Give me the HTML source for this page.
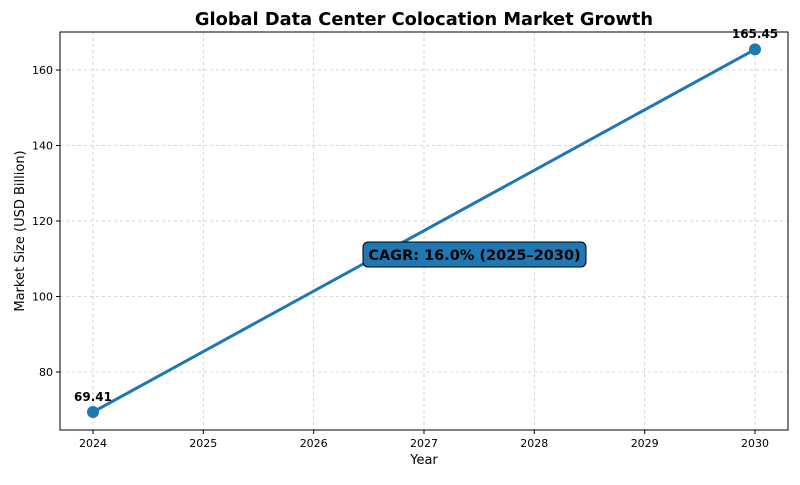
<!DOCTYPE html>
<html><head><meta charset="utf-8"><style>body{margin:0;background:#fff}</style></head><body>
<svg width="800" height="480" xmlns="http://www.w3.org/2000/svg" font-family="DejaVu Sans, Liberation Sans, sans-serif">
<rect width="800" height="480" fill="#fff"/>
<g stroke="#b0b0b0" stroke-width="0.8" stroke-dasharray="3,3" opacity="0.7">
<line x1="93" y1="32" x2="93" y2="430"/><line x1="203.3" y1="32" x2="203.3" y2="430"/><line x1="313.7" y1="32" x2="313.7" y2="430"/><line x1="424" y1="32" x2="424" y2="430"/><line x1="534.3" y1="32" x2="534.3" y2="430"/><line x1="644.7" y1="32" x2="644.7" y2="430"/><line x1="755" y1="32" x2="755" y2="430"/>
<line x1="60" y1="70" x2="788" y2="70"/><line x1="60" y1="145.5" x2="788" y2="145.5"/><line x1="60" y1="221" x2="788" y2="221"/><line x1="60" y1="296.5" x2="788" y2="296.5"/><line x1="60" y1="372" x2="788" y2="372"/>
</g>
<rect x="60" y="32" width="728" height="398" fill="none" stroke="#000" stroke-width="1"/>
<g stroke="#000"><line x1="93" y1="430" x2="93" y2="434"/><line x1="203.3" y1="430" x2="203.3" y2="434"/><line x1="313.7" y1="430" x2="313.7" y2="434"/><line x1="424" y1="430" x2="424" y2="434"/><line x1="534.3" y1="430" x2="534.3" y2="434"/><line x1="644.7" y1="430" x2="644.7" y2="434"/><line x1="755" y1="430" x2="755" y2="434"/>
<line x1="56" y1="70" x2="60" y2="70"/><line x1="56" y1="145.5" x2="60" y2="145.5"/><line x1="56" y1="221" x2="60" y2="221"/><line x1="56" y1="296.5" x2="60" y2="296.5"/><line x1="56" y1="372" x2="60" y2="372"/></g>
<g font-size="11" text-anchor="middle"><text x="93" y="447">2024</text><text x="203.3" y="447">2025</text><text x="313.7" y="447">2026</text><text x="424" y="447">2027</text><text x="534.3" y="447">2028</text><text x="644.7" y="447">2029</text><text x="755" y="447">2030</text></g>
<g font-size="11" text-anchor="end"><text x="53" y="74">160</text><text x="53" y="149.5">140</text><text x="53" y="225">120</text><text x="53" y="300.5">100</text><text x="53" y="376">80</text></g>
<text x="424" y="464" font-size="13" text-anchor="middle">Year</text>
<text transform="translate(24,231) rotate(-90)" font-size="13" text-anchor="middle">Market Size (USD Billion)</text>
<text x="424" y="25" font-size="17.8" font-weight="bold" text-anchor="middle">Global Data Center Colocation Market Growth</text>
<line x1="93" y1="412" x2="755" y2="49.4" stroke="#1f77b4" stroke-width="3"/>
<circle cx="93" cy="412" r="6" fill="#1f77b4"/><circle cx="755" cy="49.4" r="6" fill="#1f77b4"/>
<text x="93" y="401" font-size="12" font-weight="bold" text-anchor="middle">69.41</text>
<text x="755" y="38" font-size="12" font-weight="bold" text-anchor="middle">165.45</text>
<rect x="363" y="242" width="223" height="25" rx="5" fill="#1f77b4" stroke="#000" stroke-width="1"/>
<text x="474.5" y="260" font-size="14.5" font-weight="bold" text-anchor="middle">CAGR: 16.0% (2025–2030)</text>
</svg>
</body></html>
